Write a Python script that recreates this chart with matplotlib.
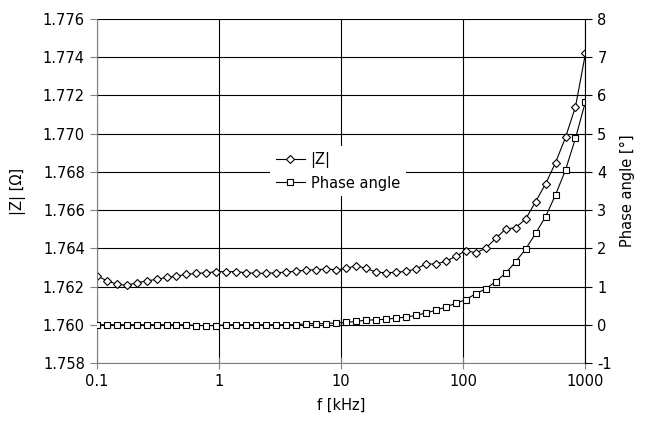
import matplotlib
matplotlib.use("Agg")
import matplotlib.pyplot as plt
from matplotlib.lines import Line2D

plt.rcParams["axes.unicode_minus"] = False

# frequency sweep [kHz], 50 points log-spaced 0.1 .. 1000
freq = [0.1, 0.1207, 0.1456, 0.1758, 0.2121, 0.256, 0.309, 0.3728, 0.4498, 0.5429,
        0.6552, 0.7907, 0.9541, 1.151, 1.39, 1.677, 2.024, 2.442, 2.947, 3.557,
        4.293, 5.179, 6.251, 7.544, 9.104, 10.99, 13.26, 16.0, 19.31, 23.3,
        28.12, 33.93, 40.95, 49.42, 59.64, 71.97, 86.85, 104.8, 126.5, 152.6,
        184.2, 222.3, 268.3, 323.7, 390.6, 471.4, 568.9, 686.6, 828.6, 1000.0]

# impedance magnitude [Ohm]
z_abs = [1.76257, 1.76231, 1.76213, 1.76206, 1.76220, 1.76229, 1.76238, 1.76248, 1.76255, 1.76264,
         1.76269, 1.76272, 1.76278, 1.76278, 1.76278, 1.76272, 1.76269, 1.76269, 1.76272, 1.76276,
         1.76280, 1.76287, 1.76287, 1.76293, 1.76287, 1.76295, 1.76309, 1.76295, 1.76276, 1.76272,
         1.76274, 1.76280, 1.76292, 1.76318, 1.76318, 1.76332, 1.76358, 1.76388, 1.76377, 1.76400,
         1.76452, 1.76501, 1.76508, 1.76553, 1.76644, 1.76737, 1.76848, 1.76981, 1.77141, 1.77420]

# phase angle [deg]
phase = [0.0, 0.0, 0.0, 0.0, 0.0, 0.0, 0.0, 0.0, 0.0, 0.0,
         -0.02, -0.02, -0.02, 0.0, 0.0, 0.0, 0.0, 0.0, 0.0, 0.0,
         0.0, 0.03, 0.03, 0.03, 0.05, 0.06, 0.09, 0.12, 0.13, 0.145,
         0.175, 0.20, 0.245, 0.31, 0.38, 0.465, 0.56, 0.66, 0.81, 0.94,
         1.13, 1.35, 1.65, 1.98, 2.39, 2.83, 3.40, 4.05, 4.88, 5.84]

x_ticks = [0.1, 1, 10, 100, 1000]
x_labels = ["0.1", "1", "10", "100", "1000"]
z_ticks = [1.758, 1.760, 1.762, 1.764, 1.766, 1.768, 1.770, 1.772, 1.774, 1.776]
ph_ticks = [-1, 0, 1, 2, 3, 4, 5, 6, 7, 8]

fs = 10.5
fig = plt.figure(figsize=(6.46, 4.26), dpi=100)
ax = fig.add_axes([0.1497, 0.1479, 0.7566, 0.8075])
ax2 = ax.twinx()

ax.set_xscale("log")
ax.set_xlim(0.1, 1000)
ax.set_ylim(1.758, 1.776)
ax.set_xticks(x_ticks)
ax.set_xticklabels(x_labels)
ax.xaxis.set_minor_locator(matplotlib.ticker.NullLocator())
ax.set_yticks(z_ticks)
ax.set_yticklabels(["%.3f" % v for v in z_ticks])
ax.grid(True, color="black", lw=0.8)
ax.tick_params(axis="y", direction="out", length=5, width=0.8, labelsize=fs, colors="#808080", labelcolor="black")
ax.tick_params(axis="x", direction="inout", length=8, width=0.8, labelsize=fs, colors="#808080", labelcolor="black", pad=4)
for s in ["left", "bottom"]:
    ax.spines[s].set_color("#808080")
ax.spines["top"].set_visible(False)
ax.spines["right"].set_visible(False)

ax2.set_ylim(-1, 8)
ax2.set_yticks(ph_ticks)
ax2.tick_params(axis="y", direction="out", length=5, width=0.8, labelsize=fs)
ax2.spines["top"].set_visible(False)
ax2.spines["left"].set_visible(False)
ax2.spines["bottom"].set_visible(False)
ax2.spines["right"].set_color("black")

ax.plot(freq, z_abs, color="black", lw=0.8, marker="D", ms=4.5, mfc="white", mec="black", mew=0.8)
ax2.plot(freq, phase, color="black", lw=0.8, marker="s", ms=4.8, mfc="white", mec="black", mew=0.8)

ax.set_xlabel("f [kHz]", fontsize=fs, labelpad=6)
ax.set_ylabel("|Z| [Ω]", fontsize=fs, labelpad=12)
ax2.set_ylabel("Phase angle [°]", fontsize=fs, labelpad=6)

handles = [Line2D([], [], color="black", lw=0.8, marker="D", ms=4, mfc="white", mew=0.8),
           Line2D([], [], color="black", lw=0.8, marker="s", ms=4.5, mfc="white", mew=0.8)]
leg = ax2.legend(handles, ["|Z|", "Phase angle"], loc="center", bbox_to_anchor=(0.493, 0.557),
                 fontsize=fs, frameon=True, fancybox=False, framealpha=1, edgecolor="none",
                 handlelength=2.0, handletextpad=0.4, labelspacing=0.5, borderpad=0.4)

fig.savefig("out.png", dpi=100)
